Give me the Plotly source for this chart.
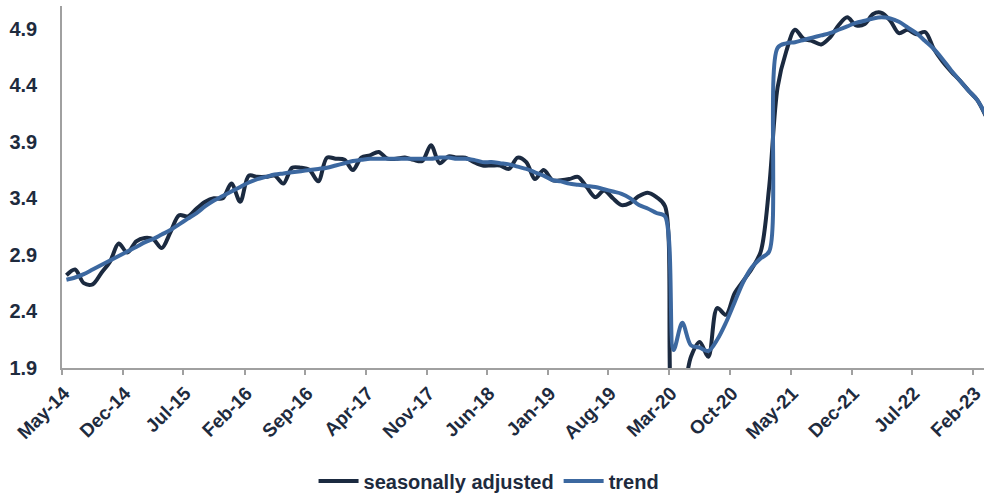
import pandas as pd
import plotly.graph_objects as go

# Monthly observations, May 2014 - Mar 2023
start_month = "2014-05-01"

seasonally_adjusted = [
    2.72, 2.77, 2.65, 2.64, 2.74, 2.84, 3.00, 2.92, 3.02, 3.05,
    3.04, 2.96, 3.10, 3.25, 3.24, 3.31, 3.37, 3.40, 3.40, 3.53,
    3.37, 3.60, 3.59, 3.59, 3.60, 3.53, 3.67, 3.67, 3.65, 3.55,
    3.76, 3.75, 3.74, 3.65, 3.76, 3.78, 3.81, 3.75, 3.75, 3.76,
    3.74, 3.73, 3.87, 3.71, 3.77, 3.76, 3.76, 3.72, 3.69, 3.69,
    3.69, 3.66, 3.76, 3.72, 3.57, 3.65, 3.56, 3.56, 3.57, 3.59,
    3.50, 3.41, 3.47, 3.40, 3.34, 3.36, 3.42, 3.45, 3.41, 3.33,
    1.55, 1.65, 2.00, 2.13, 2.00, 2.43, 2.37, 2.56, 2.67, 2.78,
    2.93, 3.50, 4.38, 4.70, 4.89, 4.81, 4.79, 4.76, 4.82, 4.93,
    5.00, 4.93, 4.94, 5.03, 5.04, 4.97, 4.86, 4.89, 4.85, 4.87,
    4.72, 4.61, 4.52, 4.44, 4.35, 4.27, 4.13,
]

trend = [
    2.68, 2.70, 2.73, 2.77, 2.81, 2.85, 2.89, 2.93, 2.97, 3.01,
    3.04, 3.08, 3.12, 3.17, 3.22, 3.27, 3.33, 3.38, 3.42, 3.46,
    3.50, 3.54, 3.57, 3.59, 3.61, 3.62, 3.63, 3.64, 3.65, 3.66,
    3.67, 3.69, 3.71, 3.73, 3.74, 3.75, 3.75, 3.75, 3.75, 3.75,
    3.75, 3.75, 3.75, 3.76, 3.76, 3.75, 3.75, 3.74, 3.72, 3.72,
    3.71, 3.70, 3.68, 3.66, 3.63, 3.60, 3.56, 3.55, 3.53, 3.52,
    3.51, 3.50, 3.48, 3.46, 3.44, 3.40, 3.34, 3.31, 3.27, 3.24,
    2.06, 2.30, 2.10, 2.08, 2.05, 2.15, 2.30, 2.48, 2.66, 2.79,
    2.87, 2.93, 4.73, 4.77, 4.78, 4.80, 4.82, 4.84, 4.86, 4.89,
    4.92, 4.95, 4.97, 4.99, 5.00, 4.99, 4.96, 4.91, 4.86, 4.79,
    4.72, 4.63, 4.53, 4.44, 4.35, 4.27, 4.14,
]

tick_labels = [
    "May-14", "Dec-14", "Jul-15", "Feb-16", "Sep-16", "Apr-17", "Nov-17",
    "Jun-18", "Jan-19", "Aug-19", "Mar-20", "Oct-20", "May-21", "Dec-21",
    "Jul-22", "Feb-23",
]

y_ticks = [1.9, 2.4, 2.9, 3.4, 3.9, 4.4, 4.9]

months = pd.date_range(start_month, periods=len(trend), freq="MS")
tick_dates = [pd.to_datetime(lbl, format="%b-%y") for lbl in tick_labels]

SA_COLOR = "#1b2a40"
TREND_COLOR = "#3c68a0"
TEXT_COLOR = "#1e2b3e"
AXIS_COLOR = "#a0a0a0"
FONT = "Liberation Sans, Arial, sans-serif"

fig = go.Figure()
fig.add_trace(go.Scatter(
    x=months, y=seasonally_adjusted, name="seasonally adjusted",
    mode="lines", line=dict(color=SA_COLOR, width=4, shape="spline", smoothing=0.9),
    xperiod="M1", xperiodalignment="middle",
))
fig.add_trace(go.Scatter(
    x=months, y=trend, name="trend",
    mode="lines", line=dict(color=TREND_COLOR, width=4, shape="spline", smoothing=0.9),
    xperiod="M1", xperiodalignment="middle",
))

fig.update_layout(
    width=984, height=496,
    margin=dict(l=62, r=0, t=6, b=128),
    paper_bgcolor="white", plot_bgcolor="white",
    font=dict(family=FONT, color=TEXT_COLOR, size=20, weight="bold"),
    showlegend=True,
    legend=dict(
        orientation="h", xref="container", yref="container",
        x=0.497, xanchor="center", y=0.03, yanchor="middle",
        font=dict(family=FONT, size=20, color=TEXT_COLOR, weight="bold"),
        itemwidth=40, tracegroupgap=0,
    ),
)

fig.update_xaxes(
    type="date", automargin=False,
    range=["2014-05-01", "2023-03-11"],
    tickvals=tick_dates, ticktext=tick_labels,
    tickangle=-45, ticks="outside", ticklen=5, tickcolor=AXIS_COLOR, tickwidth=1.5,
    ticklabelshift=2, ticklabeloverflow="allow",
    showline=True, linecolor=AXIS_COLOR, linewidth=1.5,
    showgrid=False, zeroline=False,
    tickfont=dict(family=FONT, size=19, color=TEXT_COLOR, weight="bold"),
)
fig.update_yaxes(
    automargin=False,
    range=[1.9, 5.1],
    tickvals=y_ticks, ticktext=[f"{v:.1f}" for v in y_ticks],
    ticks="", showline=True, linecolor=AXIS_COLOR, linewidth=1.5,
    showgrid=False, zeroline=False, ticklabelstandoff=19,
    tickfont=dict(family=FONT, size=20, color=TEXT_COLOR, weight="bold"),
)

fig.write_html("out.html")
